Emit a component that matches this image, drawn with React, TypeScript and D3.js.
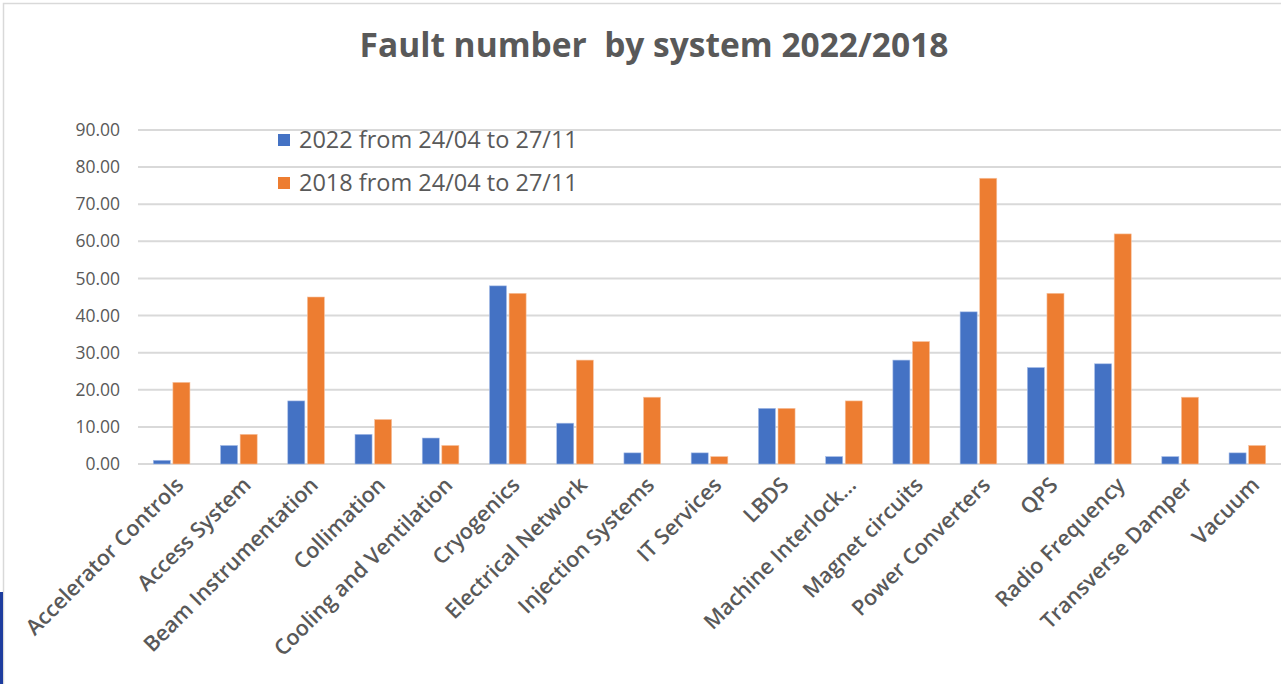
import React from "react";
import * as d3 from "d3";

const categories = [
  "Accelerator Controls",
  "Access System",
  "Beam Instrumentation",
  "Collimation",
  "Cooling and Ventilation",
  "Cryogenics",
  "Electrical Network",
  "Injection Systems",
  "IT Services",
  "LBDS",
  "Machine Interlock…",
  "Magnet circuits",
  "Power Converters",
  "QPS",
  "Radio Frequency",
  "Transverse Damper",
  "Vacuum",
];
const values2022 = [1, 5, 17, 8, 7, 48, 11, 3, 3, 15, 2, 28, 41, 26, 27, 2, 3];
const values2018 = [22, 8, 45, 12, 5, 46, 28, 18, 2, 15, 17, 33, 77, 46, 62, 18, 5];
const seriesNames = ["2022 from 24/04 to 27/11", "2018 from 24/04 to 27/11"];
const yTicks = [0, 10, 20, 30, 40, 50, 60, 70, 80, 90];
const title = "Fault number  by system 2022/2018";

const W = 1281;
const H = 684;
const COLORS = ["#4472C4", "#ED7D31"];
const TEXT = "#595959";
const FONT = "'Open Sans', 'Liberation Sans', sans-serif";

export default function App() {
  const x = d3.scaleBand<string>().domain(categories).range([138, 1281]).paddingInner(0).paddingOuter(0);
  const y = d3.scaleLinear().domain([0, 90]).range([464, 130]);
  const inner = d3.scaleBand<number>().domain([0, 1]).range([0, x.bandwidth()]).paddingInner(0.13).paddingOuter(0.78);
  const series = [values2022, values2018];

  return (
    <svg width={W} height={H} style={{ position: "absolute", left: 0, top: 0, background: "#fff" }} fontFamily={FONT}>
      <rect x={0} y={0} width={W} height={H} fill="#fff" />
      <path d={`M3.5,${H} V3.5 H${W}`} fill="none" stroke="#D9D9D9" strokeWidth={1.5} />
      <rect x={0} y={592} width={3} height={92} fill="#1D3C9E" />
      <text x={654} y={57} textAnchor="middle" fontSize={33.5} fontWeight={700} fill={TEXT} style={{ whiteSpace: "pre" }}>
        {title}
      </text>
      {yTicks.map((t) => (
        <g key={t}>
          <line x1={138} x2={1281} y1={y(t)} y2={y(t)} stroke="#D9D9D9" strokeWidth={2} />
          <text x={120} y={y(t)} dy="0.35em" textAnchor="end" fontSize={17.5} fill={TEXT}>
            {t.toFixed(2)}
          </text>
        </g>
      ))}
      {categories.map((c, i) => (
        <g key={c}>
          {series.map((vals, s) => (
            <rect
              key={s}
              x={(x(c) as number) + (inner(s) as number)}
              y={y(vals[i])}
              width={inner.bandwidth()}
              height={y(0) - y(vals[i])}
              fill={COLORS[s]}
              stroke={s === 0 ? "#A9BEE8" : "#F7C4A2"}
              strokeWidth={0.6}
            />
          ))}
          <text
            transform={`translate(${(x(c) as number) + x.bandwidth() / 2 + 8},${481}) rotate(-45)`}
            textAnchor="end"
            dy="0.35em"
            fontSize={21.5}
            fontWeight={600}
            fill={TEXT}
          >
            {c}
          </text>
        </g>
      ))}
      {seriesNames.map((n, s) => (
        <g key={n} transform={`translate(278,${140 + s * 43})`}>
          <rect x={0} y={-6} width={12} height={12} fill={COLORS[s]} />
          <text x={21} y={0} dy="0.35em" fontSize={23.5} fill={TEXT}>
            {n}
          </text>
        </g>
      ))}
    </svg>
  );
}
